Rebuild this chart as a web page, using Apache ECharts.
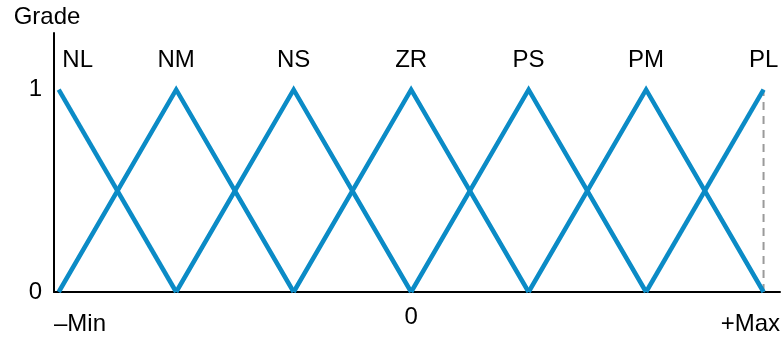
<!DOCTYPE html>
<html>
<head>
<meta charset="utf-8">
<style>
  html, body { margin: 0; padding: 0; background: #fff; }
  #chart { width: 783px; height: 337px; }
</style>
<script src="https://cdn.jsdelivr.net/npm/echarts@6/dist/echarts.min.js"></script>
</head>
<body>
<div id="chart"></div>
<script>
// fuzzy sets: names, x points and membership grades
const setNames = ["NL", "NM", "NS", "ZR", "PS", "PM", "PL"];
const setX = [
  [-3, -2],
  [-3, -2, -1],
  [-2, -1, 0],
  [-1, 0, 1],
  [0, 1, 2],
  [1, 2, 3],
  [2, 3]
];
const setY = [
  [1, 0],
  [0, 1, 0],
  [0, 1, 0],
  [0, 1, 0],
  [0, 1, 0],
  [0, 1, 0],
  [0, 1]
];
const edgeX = [3, 3];
const edgeY = [0, 1];
const xTickValues = [-3.04, 0, 3.14];
const xTickLabels = ["\u2013Min", "0", "+Max"];
const yTickValues = [0, 1];

const chart = echarts.init(document.getElementById("chart"));
const font = "'Liberation Sans', Arial, sans-serif";
const blue = "#0b8bc6";

let series = [];
series.push({
  type: "line",
  data: edgeX.map((x, i) => [x, edgeY[i]]),
  showSymbol: false,
  silent: true,
  lineStyle: { color: "#9a9a9a", width: 2, type: [8, 6] }
});
for (let i = 0; i < setNames.length; i++) {
  let data = setX[i].map((x, j) => {
    let item = { value: [x, setY[i][j]] };
    if (setY[i][j] === 1) {
      item.label = {
        show: true,
        position: "top",
        distance: 17,
        offset: i === 0 ? [19, 0] : [0, 0],
        formatter: setNames[i],
        color: "#000",
        fontSize: 24,
        fontFamily: font
      };
    }
    return item;
  });
  series.push({
    name: setNames[i],
    type: "line",
    data: data,
    showSymbol: true,
    symbol: "circle",
    symbolSize: 0,
    lineStyle: { color: blue, width: 4.5, join: "miter", cap: "butt" }
  });
}

let option = {
  animation: false,
  grid: { left: 54, right: 3, top: 33, bottom: 45 },
  xAxis: {
    type: "value",
    min: -3.04,
    max: 3.14,
    axisLine: { show: true, onZero: false, lineStyle: { color: "#000", width: 2 } },
    axisTick: { show: false },
    splitLine: { show: false },
    axisLabel: {
      customValues: xTickValues,
      margin: 13,
      alignMinLabel: "left",
      alignMaxLabel: "right",
      formatter: function (v) {
        let k = xTickValues.indexOf(v);
        let t = k >= 0 ? xTickLabels[k] : "";
        return t === "0" ? "{z|" + t + "}" : "{e|" + t + "}";
      },
      rich: {
        z: { fontSize: 24, fontFamily: font, color: "#000" },
        e: { fontSize: 24, fontFamily: font, color: "#000", padding: [7, 0, 0, 0] }
      }
    }
  },
  yAxis: {
    type: "value",
    min: 0,
    max: 1.28,
    name: "Grade",
    nameLocation: "end",
    nameGap: 4,
    nameTextStyle: {
      fontSize: 24,
      fontFamily: font,
      color: "#000",
      align: "center",
      padding: [0, 14, 0, 0]
    },
    axisLine: { show: true, onZero: false, lineStyle: { color: "#000", width: 2 } },
    axisTick: { show: false },
    splitLine: { show: false },
    axisLabel: {
      customValues: yTickValues,
      margin: 12,
      fontSize: 24,
      fontFamily: font,
      color: "#000"
    }
  },
  series: series
};
chart.setOption(option);
</script>
</body>
</html>
